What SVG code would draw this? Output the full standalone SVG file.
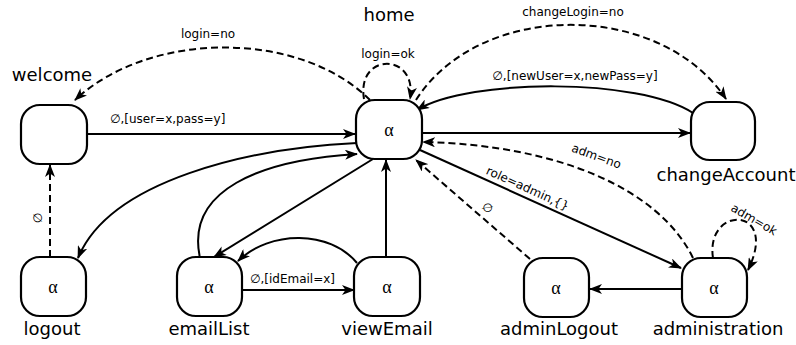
<svg xmlns="http://www.w3.org/2000/svg" width="796" height="345" viewBox="0 0 796 345">
<style>
.node{fill:#fff;stroke:#000;stroke-width:2.2}
.nl{font-family:"DejaVu Sans",sans-serif;font-size:18px;text-anchor:middle;fill:#000}
.al{font-family:"Liberation Serif","DejaVu Serif",serif;font-size:18px;text-anchor:middle;fill:#000}
.e{fill:none;stroke:#000;stroke-width:2}
.d{stroke-dasharray:7,4}
.el{font-family:"DejaVu Sans",sans-serif;font-size:12px;fill:#000}
</style>
<defs>
<marker id="a" viewBox="0 0 13 10" refX="12" refY="5" markerWidth="13" markerHeight="10" markerUnits="userSpaceOnUse" orient="auto">
<path d="M0,0 L13,5 L0,10 L3.5,5 z" fill="#000"/>
</marker>
</defs>
<g id="connectors">
<path class="e" d="M87,134 L355,134" marker-end="url(#a)"/>
<text class="el" x="110" y="123">∅,[user=x,pass=y]</text>
<path class="e d" d="M370,100 C300,30 150,30 75,100" marker-end="url(#a)"/>
<text class="el" x="208" y="38" text-anchor="middle">login=no</text>
<path class="e d" d="M364,99 C356,52 418,52 410,99" marker-end="url(#a)"/>
<text class="el" x="388" y="58" text-anchor="middle">login=ok</text>
<path class="e d" d="M416,100 C480,0 660,0 726,99" marker-end="url(#a)"/>
<text class="el" x="573" y="16" text-anchor="middle">changeLogin=no</text>
<path class="e" d="M693,113 C640,78 470,78 417,110" marker-end="url(#a)"/>
<text class="el" x="575" y="80" text-anchor="middle">∅,[newUser=x,newPass=y]</text>
<path class="e" d="M423,133 L690,133" marker-end="url(#a)"/>
<path class="e d" d="M693,258 C660,190 560,145 423,142" marker-end="url(#a)"/>
<text class="el" x="0" y="0" text-anchor="middle" transform="translate(595,160) rotate(20)">adm=no</text>
<path class="e" d="M420,150 L681,268" marker-end="url(#a)"/>
<text class="el" x="0" y="0" text-anchor="middle" transform="translate(526,192) rotate(24.5)">role=admin,{}</text>
<path class="e d" d="M530,259 L416,160" marker-end="url(#a)"/>
<text class="el" x="0" y="0" text-anchor="middle" transform="translate(485,211) rotate(41)">∅</text>
<path class="e" d="M682,289 L590,289" marker-end="url(#a)"/>
<path class="e d" d="M713,258 C705,205 780,205 748,270" marker-end="url(#a)"/>
<text class="el" x="0" y="0" text-anchor="middle" transform="translate(752,223) rotate(30)">adm=ok</text>
<path class="e d" d="M50,257 L50,165" marker-end="url(#a)"/>
<text class="el" x="0" y="0" text-anchor="middle" transform="translate(42,218) rotate(-90)">∅</text>
<path class="e" d="M357,143 C250,148 110,180 78,258" marker-end="url(#a)"/>
<path class="e" d="M200,258 C185,190 260,160 357,154" marker-end="url(#a)"/>
<path class="e" d="M373,159 L214,257" marker-end="url(#a)"/>
<path class="e" d="M386,257 L386,160" marker-end="url(#a)"/>
<path class="e" d="M357,263 C330,230 270,230 238,261" marker-end="url(#a)"/>
<path class="e" d="M242,290 L354,290" marker-end="url(#a)"/>
<text class="el" x="250" y="283">∅,[idEmail=x]</text>
</g>
<g id="welcome"><rect class="node" x="21" y="105" width="66" height="59" rx="19"/><text class="nl" x="52" y="81">welcome</text></g>
<g id="home"><rect class="node" x="356" y="100" width="66" height="59" rx="19"/><text class="al" x="389" y="136">α</text><text class="nl" x="389" y="21">home</text></g>
<g id="changeAccount"><rect class="node" x="691" y="102" width="64" height="58" rx="19"/><text class="nl" x="726" y="181">changeAccount</text></g>
<g id="logout"><rect class="node" x="21" y="257" width="65" height="59" rx="19"/><text class="al" x="53" y="293">α</text><text class="nl" x="52" y="335">logout</text></g>
<g id="emailList"><rect class="node" x="177" y="257" width="65" height="59" rx="19"/><text class="al" x="209" y="293">α</text><text class="nl" x="209" y="335">emailList</text></g>
<g id="viewEmail"><rect class="node" x="354" y="257" width="66" height="59" rx="19"/><text class="al" x="387" y="293">α</text><text class="nl" x="387" y="335">viewEmail</text></g>
<g id="adminLogout"><rect class="node" x="524" y="258" width="65" height="59" rx="19"/><text class="al" x="556" y="294">α</text><text class="nl" x="559" y="335">adminLogout</text></g>
<g id="administration"><rect class="node" x="682" y="258" width="65" height="59" rx="19"/><text class="al" x="714" y="294">α</text><text class="nl" x="718" y="335">administration</text></g>
</svg>
